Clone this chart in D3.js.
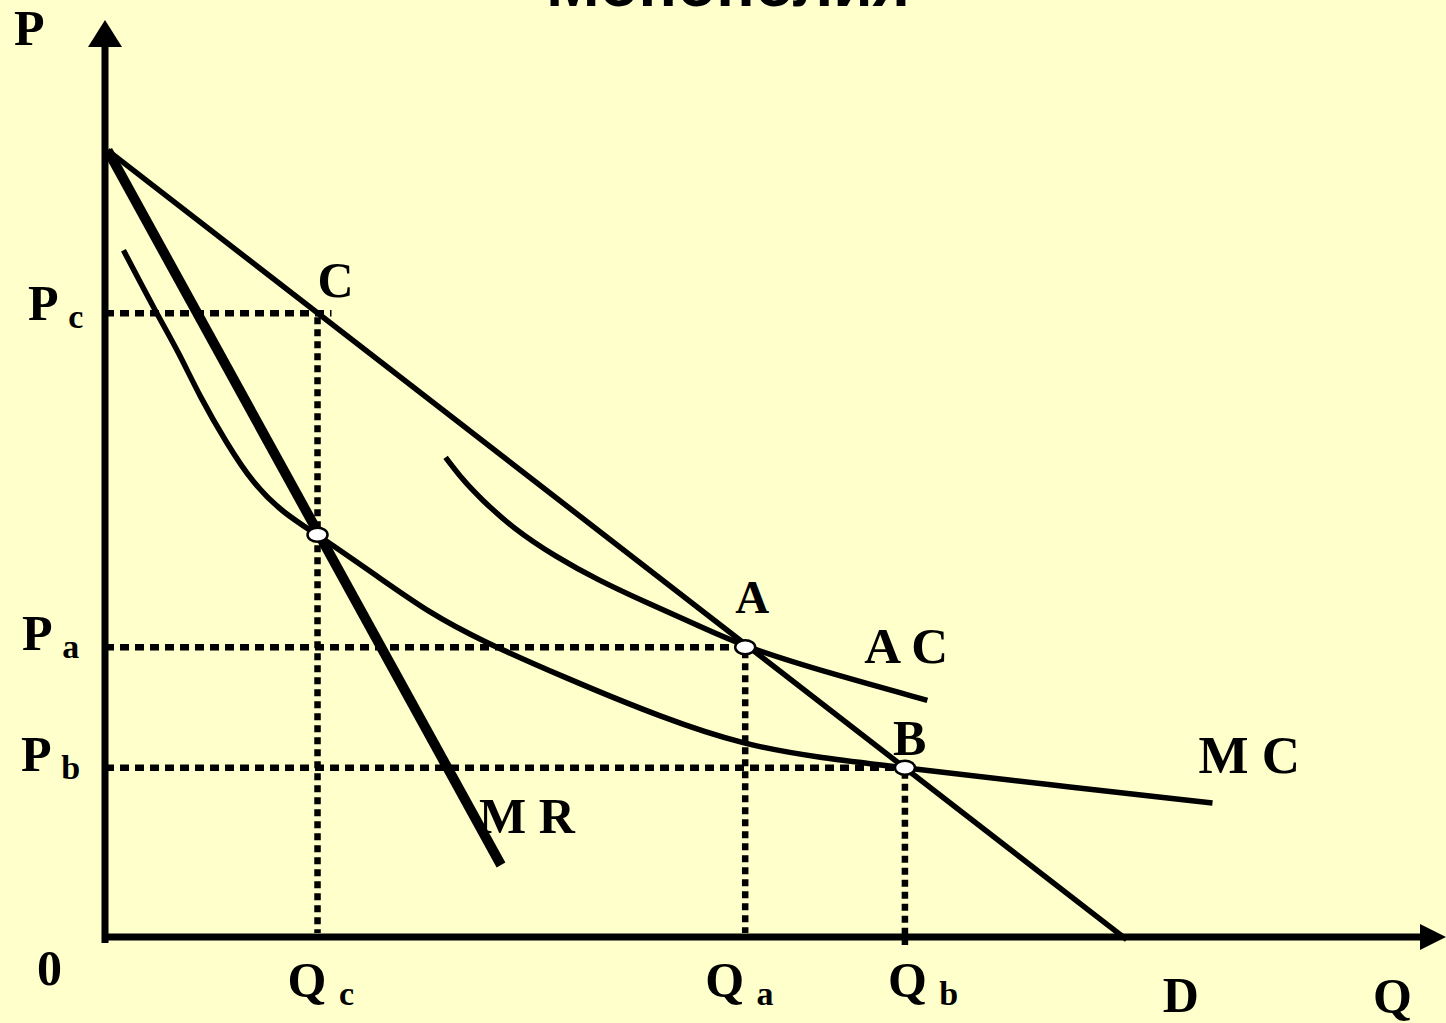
<!DOCTYPE html>
<html>
<head>
<meta charset="utf-8">
<script src="https://d3js.org/d3.v7.min.js"></script>
<style>
  body { margin: 0; background: #ffffcc; }
  text { font-family: "Liberation Serif", "Times New Roman", serif; font-weight: bold; fill: #000; }
</style>
</head>
<body>
<svg width="1446" height="1023"></svg>
<script>
// monopoly diagram: demand, MR, MC, AC (Q, P in arbitrary units)
var title = "Монополия";

var demand = [[0.2, 87.4], [77.4, -0.3]];
var mr = [[0.2, 87.4], [30.0, 8.0]];
var mc = [[1.4, 76.3], [3.9, 69.3], [5.5, 65.2], [7.2, 60.0], [9.2, 54.9], [11.2, 50.4],
          [13.5, 47.1], [16.1, 44.7], [20.8, 39.9], [24.6, 36.0], [28.4, 33.0], [34.7, 28.9],
          [42.3, 24.3], [48.5, 21.3], [54.2, 19.9], [60.6, 18.8], [71.6, 16.9], [83.9, 14.9]];
var ac = [[25.8, 53.3], [27.1, 50.8], [28.4, 48.8], [30.9, 45.4], [34.2, 42.2], [37.3, 39.7],
          [41.1, 37.1], [44.8, 34.7], [48.5, 32.2], [54.9, 29.3], [62.3, 26.3]];

// equilibrium points
var pointNames = ["C", "A", "B"];
var pointQ = [16.1, 48.5, 60.6];
var pointP = [69.3, 32.2, 18.8];
var qSubs = ["c", "a", "b"];
var mrmc = [16.1, 44.7];

var svg = d3.select("svg"),
    width = +svg.attr("width"),
    height = +svg.attr("height");

svg.append("rect").attr("width", width).attr("height", height).attr("fill", "#ffffcc");

var x = d3.scaleLinear().domain([0, 100]).range([105, 1425]);
var y = d3.scaleLinear().domain([0, 100]).range([937, 37]);

var line = d3.line().x(function(d) { return x(d[0]); }).y(function(d) { return y(d[1]); });
var curve = d3.line().curve(d3.curveBasis)
    .x(function(d) { return x(d[0]); }).y(function(d) { return y(d[1]); });

// title, mostly off the top edge (as in the original slide)
svg.append("text")
    .attr("x", 728).attr("y", 6)
    .attr("text-anchor", "middle")
    .style("font-family", "'Liberation Sans', Arial, sans-serif")
    .style("font-size", "64px")
    .text(title);

// dotted guides
pointNames.forEach(function(n, i) {
  svg.append("line")
      .attr("x1", x(0)).attr("x2", x(pointQ[i]) + (i == 0 ? 14 : 0))
      .attr("y1", y(pointP[i])).attr("y2", y(pointP[i]))
      .attr("stroke", "#000").attr("stroke-width", 6.5)
      .attr("stroke-dasharray", "9,6");
  svg.append("line")
      .attr("x1", x(pointQ[i])).attr("x2", x(pointQ[i]))
      .attr("y1", y(pointP[i]) + 4).attr("y2", y(0) + (i == 2 ? 8 : -4))
      .attr("stroke", "#000").attr("stroke-width", 6.5)
      .attr("stroke-dasharray", "7,5");
});

// axes
svg.append("line").attr("x1", x(0)).attr("x2", x(0)).attr("y1", y(0) + 6).attr("y2", 40)
    .attr("stroke", "#000").attr("stroke-width", 7);
svg.append("line").attr("x1", x(0) - 3).attr("x2", 1428).attr("y1", y(0)).attr("y2", y(0))
    .attr("stroke", "#000").attr("stroke-width", 7);
svg.append("path").attr("d", "M" + x(0) + ",20L" + (x(0) + 17) + ",47L" + (x(0) - 17) + ",47Z");
svg.append("path").attr("d", "M1446," + y(0) + "L1420," + (y(0) - 13) + "L1420," + (y(0) + 13) + "Z");

// curves
svg.append("path").datum(demand).attr("d", line)
    .attr("fill", "none").attr("stroke", "#000").attr("stroke-width", 5.5);
svg.append("path").datum(mr).attr("d", line)
    .attr("fill", "none").attr("stroke", "#000").attr("stroke-width", 10);
svg.append("path").datum(mc).attr("d", curve)
    .attr("fill", "none").attr("stroke", "#000").attr("stroke-width", 5.5);
svg.append("path").datum(ac).attr("d", curve)
    .attr("fill", "none").attr("stroke", "#000").attr("stroke-width", 5.5);

// markers
var marks = [mrmc, [pointQ[1], pointP[1]], [pointQ[2], pointP[2]]];
svg.selectAll("ellipse").data(marks).enter().append("ellipse")
    .attr("cx", function(d) { return x(d[0]); })
    .attr("cy", function(d) { return y(d[1]); })
    .attr("rx", 10).attr("ry", 7)
    .attr("fill", "#fff").attr("stroke", "#000").attr("stroke-width", 2.5);

// labels
function sublabel(px, py, main, sub) {
  var t = svg.append("text").attr("x", px).attr("y", py).style("font-size", "50px");
  t.append("tspan").text(main + " ");
  t.append("tspan").attr("dy", 8).style("font-size", "34px").text(sub);
}
var pDx = [28, 22, 21];
pointNames.forEach(function(n, i) {
  sublabel(pDx[i], y(pointP[i]) + (i == 0 ? 7 : 3), "P", qSubs[i]);
});
var qDx = [-30, -40, -17];
pointNames.forEach(function(n, i) {
  sublabel(x(pointQ[i]) + qDx[i], 997, "Q", qSubs[i]);
});

var ptDx = [0, -10, -12], ptDy = [-16, -34, -13];
pointNames.forEach(function(n, i) {
  svg.append("text").attr("x", x(pointQ[i]) + ptDx[i]).attr("y", y(pointP[i]) + ptDy[i])
      .style("font-size", i == 1 ? "47px" : "50px").text(n);
});

function label(px, py, s, size) {
  svg.append("text").attr("x", px).attr("y", py).style("font-size", (size || 50) + "px").text(s);
}
label(14, 45, "P");
label(37, 985, "0");
label(1373, 1013, "Q");
label(x(demand[1][0]) + 36, 1012, "D");
label(x(ac[ac.length - 1][0]) - 63, 663, "A C", 51);
label(x(mc[mc.length - 1][0]) - 14, 773, "M C", 53);
label(x(mr[1][0]) - 22, 833, "M R");
</script>
</body>
</html>
